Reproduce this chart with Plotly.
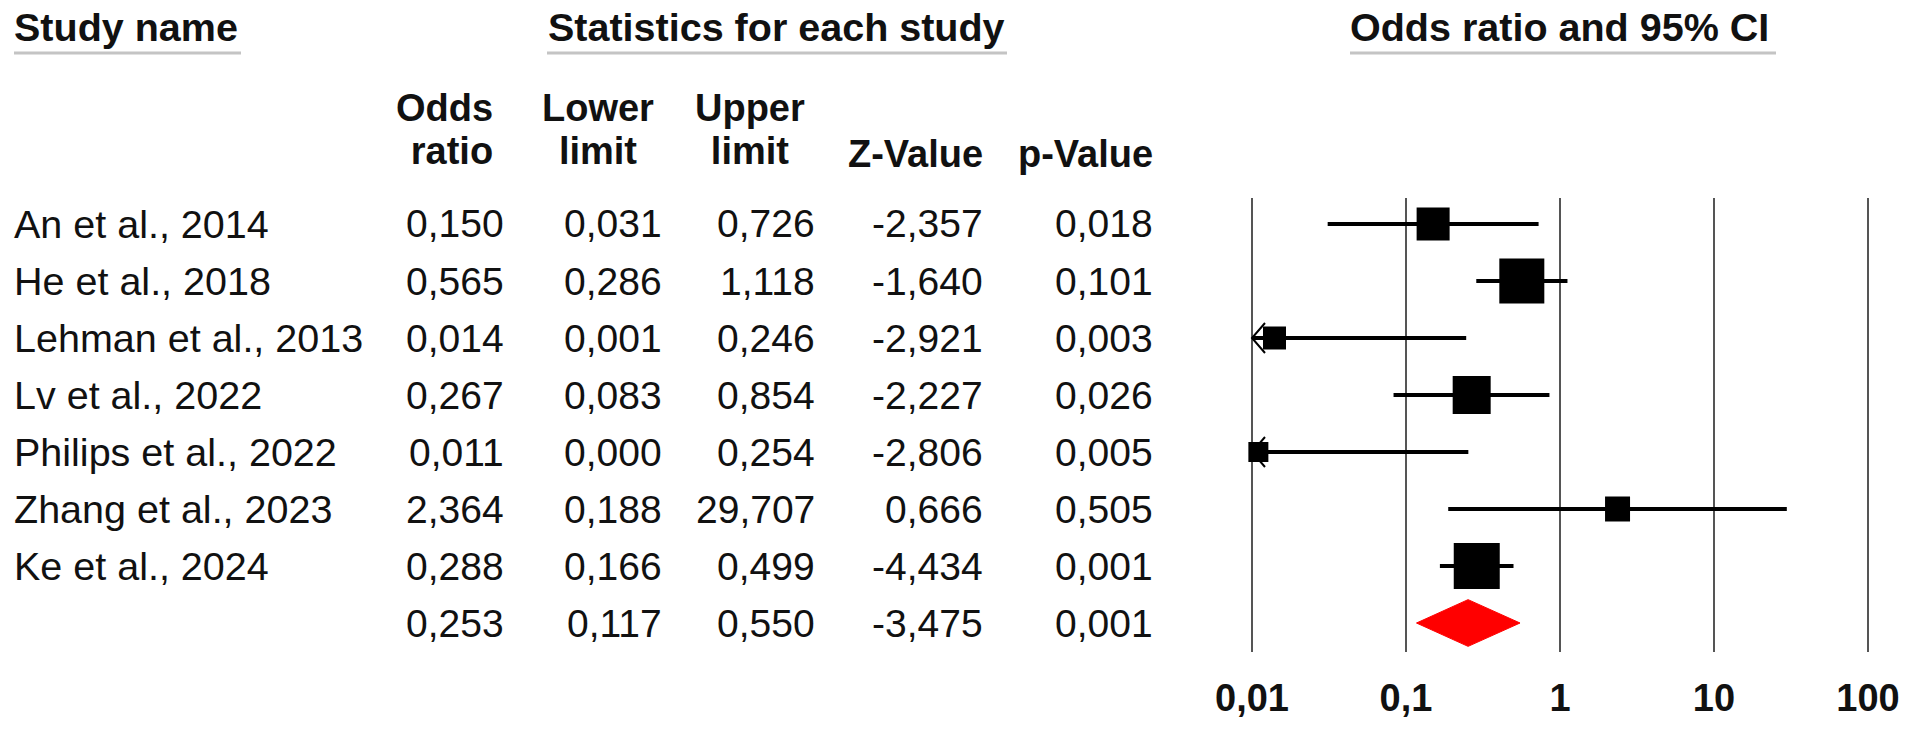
import plotly.graph_objects as go

# ---------------- data ----------------
studies = ["An et al., 2014", "He et al., 2018", "Lehman et al., 2013", "Lv et al., 2022",
           "Philips et al., 2022", "Zhang et al., 2023", "Ke et al., 2024"]
odds_ratio = [0.150, 0.565, 0.014, 0.267, 0.011, 2.364, 0.288]
lower_limit = [0.031, 0.286, 0.001, 0.083, 0.000, 0.188, 0.166]
upper_limit = [0.726, 1.118, 0.246, 0.854, 0.254, 29.707, 0.499]
z_value = [-2.357, -1.640, -2.921, -2.227, -2.806, 0.666, -4.434]
p_value = [0.018, 0.101, 0.003, 0.026, 0.005, 0.505, 0.001]
weight_size = [33, 45, 23, 38, 20, 25, 46]   # square sizes (relative weights)

summary_or = 0.253
summary_lower = 0.117
summary_upper = 0.550
summary_z = -3.475
summary_p = 0.001

tick_vals = [0.01, 0.1, 1, 10, 100]
tick_text = ["0,01", "0,1", "1", "10", "100"]
axis_min = 0.01

# ---------------- layout helpers ----------------
W, H = 1913, 732
FONT = "Liberation Sans, Arial, sans-serif"
FS = 39.5        # names / headers
FV = 39          # numbers
FH = 38          # two-line column headers
TXT = "#111111"

# axis geometry (pixels)
dec = 154.0                      # pixels per decade
x_left_px = 1252 - 0.1 * dec
x_right_px = 1868 + 0.1 * dec
y_top_px, y_bot_px = 198, 652
row0_px, row_step = 224, 57


def px(xp):
    return xp / W


def py(yp):
    return 1 - yp / H


def fmt(v):
    return f"{v:.3f}".replace(".", ",")


n = len(studies)
rows = list(range(1, n + 1))
sum_row = n + 1

fig = go.Figure()

# CI lines (clipped to axis minimum)
for i in range(n):
    lo = max(lower_limit[i], axis_min)
    fig.add_trace(go.Scatter(x=[lo, upper_limit[i]], y=[rows[i], rows[i]], mode="lines",
                             line=dict(color="black", width=4), showlegend=False,
                             hoverinfo="skip"))

# open arrow heads for clipped lower limits (tip at the axis minimum)
arm_dx = 10 ** (13 / dec)          # 13 px to the right
arm_dy = 15 / row_step             # 15 px up / down
for i in range(n):
    if lower_limit[i] < axis_min:
        fig.add_trace(go.Scatter(x=[axis_min * arm_dx, axis_min, axis_min * arm_dx],
                                 y=[rows[i] - arm_dy, rows[i], rows[i] + arm_dy],
                                 mode="lines", line=dict(color="black", width=2),
                                 showlegend=False, hoverinfo="skip"))

# squares
fig.add_trace(go.Scatter(x=odds_ratio, y=rows, mode="markers",
                         marker=dict(symbol="square", size=weight_size, color="black",
                                     opacity=1, line=dict(width=0)),
                         showlegend=False))

# summary diamond
h = 0.41
fig.add_trace(go.Scatter(x=[summary_lower, summary_or, summary_upper, summary_or, summary_lower],
                         y=[sum_row, sum_row - h, sum_row, sum_row + h, sum_row],
                         mode="lines", fill="toself", fillcolor="#ff0000",
                         line=dict(color="#ff0000", width=1), showlegend=False,
                         hoverinfo="skip"))

# ---------------- table text ----------------
ann = []


def add_text(text, x, y, anchor, yref="y", bold=False, size=FS, align="left"):
    ann.append(dict(text=f"<b>{text}</b>" if bold else text, x=x, y=y, xref="paper", yref=yref,
                    xanchor=anchor, yanchor="middle", showarrow=False, align=align,
                    font=dict(family=FONT, size=size, color=TXT)))


col_right = [506, 664, 817, 985, 1155]
for i in range(n):
    add_text(studies[i], px(12), rows[i], "left")
    vals = [odds_ratio[i], lower_limit[i], upper_limit[i], z_value[i], p_value[i]]
    for c, v in enumerate(vals):
        add_text(fmt(v), px(col_right[c]), rows[i], "right", size=FV)
for c, v in enumerate([summary_or, summary_lower, summary_upper, summary_z, summary_p]):
    add_text(fmt(v), px(col_right[c]), sum_row, "right", size=FV)

# top headers
add_text("Study name", px(12), py(27), "left", yref="paper", bold=True)
add_text("Statistics for each study", px(546), py(27), "left", yref="paper", bold=True)
add_text("Odds ratio and 95% CI", px(1348), py(27), "left", yref="paper", bold=True)


# two-line column headers: line pitch = 1.3 * base size
def two_line(a, b):
    sp = f'<span style="font-size:{FH}px">'
    return f"{sp}{a}</span><br>{sp}{b}</span>"


HB = 43 / 1.3
add_text(two_line("Odds", "ratio"), px(495), py(129), "right", yref="paper", bold=True,
         size=HB, align="right")
add_text(two_line("Lower", "limit"), px(598), py(129), "center", yref="paper", bold=True,
         size=HB, align="center")
add_text(two_line("Upper", "limit"), px(750), py(129), "center", yref="paper", bold=True,
         size=HB, align="center")
add_text("Z-Value", px(985), py(153.5), "right", yref="paper", bold=True, size=FH)
add_text("p-Value", px(1155), py(153.5), "right", yref="paper", bold=True, size=FH)

shapes = []
for x0, x1 in [(14, 241), (547, 1007), (1350, 1776)]:
    shapes.append(dict(type="line", xref="paper", yref="paper", x0=px(x0), x1=px(x1),
                       y0=py(53), y1=py(53), line=dict(color="#c4c4c4", width=3)))

y_top_val = 1 - (row0_px - y_top_px) / row_step
y_bot_val = sum_row + (y_bot_px - (row0_px + row_step * (sum_row - 1))) / row_step

fig.update_layout(
    template="none",
    width=W, height=H,
    margin=dict(l=0, r=0, t=0, b=0, pad=0, autoexpand=False),
    paper_bgcolor="white", plot_bgcolor="white",
    showlegend=False,
    annotations=ann, shapes=shapes,
    xaxis=dict(type="log", range=[-2.1, 2.1], domain=[px(x_left_px), px(x_right_px)],
               tickvals=tick_vals, ticktext=tick_text, showgrid=True, gridcolor="#555555",
               gridwidth=2, showline=False, zeroline=False, ticks="", automargin=False,
               tickfont=dict(family=FONT, size=FV - 1, color=TXT, weight="bold"),
               ticklabelstandoff=20, fixedrange=True),
    yaxis=dict(range=[y_bot_val, y_top_val], domain=[py(y_bot_px), py(y_top_px)],
               visible=False, showgrid=False, zeroline=False, fixedrange=True,
               automargin=False),
)

fig.write_html("out.html", config={"displayModeBar": False},
               post_script="document.body.style.margin='0';")
